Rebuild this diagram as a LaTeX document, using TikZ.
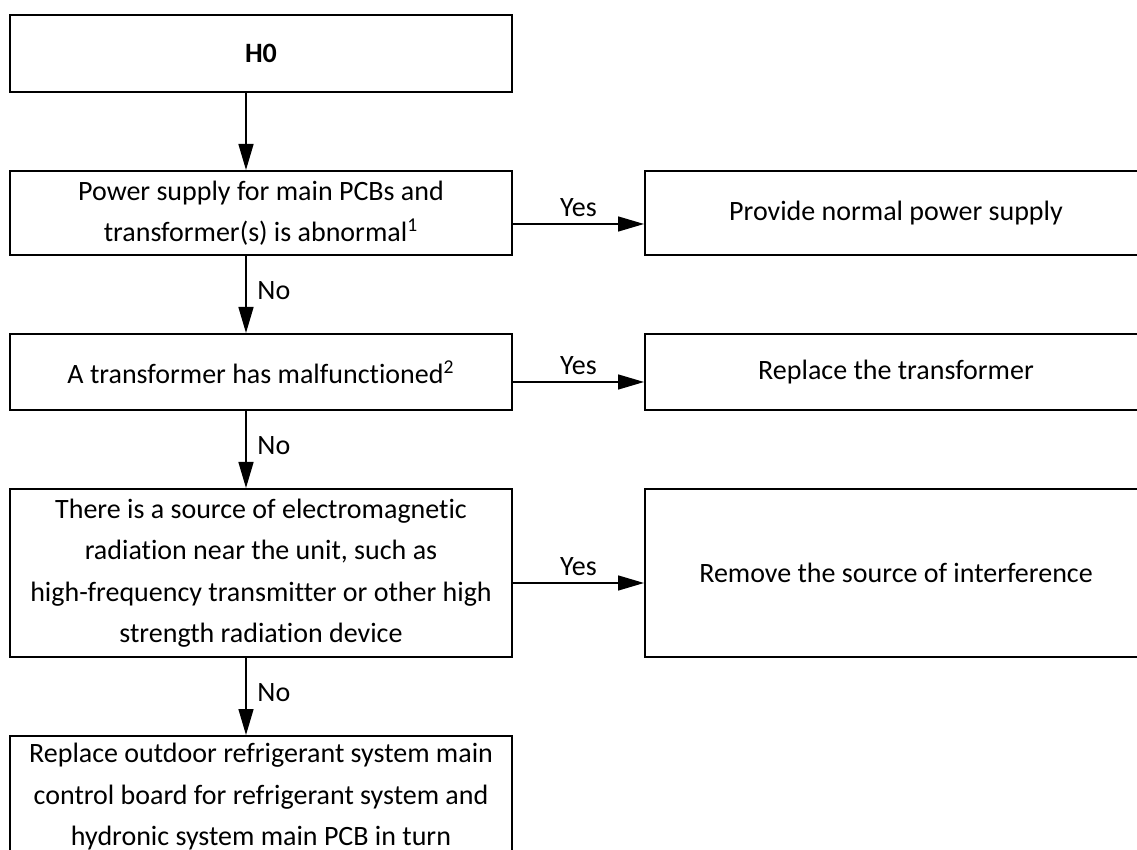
\documentclass[tikz,border=0pt]{standalone}
\usepackage{fontspec}
\setmainfont{Carlito}[Ligatures=NoCommon]
\usetikzlibrary{arrows.meta, positioning}
\tikzset{
    flowbox/.style={draw, line width=1pt, align=center, minimum width=251pt, inner sep=2pt,
        font=\fontsize{14}{20.75}\selectfont},
    flowarrow/.style={-{Triangle[length=13pt, width=7.5pt]}, line width=0.75pt},
    flowlabel/.style={font=\fontsize{14}{16}\selectfont}
}
\begin{document}
\begin{tikzpicture}
  \useasboundingbox (0,0) rectangle (568.5pt,-425pt);
  % Left column: checks
  \node[flowbox, minimum height=38.5pt] (h0) at (130.5pt,-26.75pt) {\textbf{H0}};
  \node[flowbox, minimum height=42pt, below=38.5pt of h0] (pwr)
        {Power supply for main PCBs and\\ transformer(s) is abnormal\textsuperscript{1}};
  \node[flowbox, minimum height=38pt, below=38.5pt of pwr] (trf)
        {A transformer has malfunctioned\textsuperscript{2}};
  \node[flowbox, minimum height=84pt, below=38.5pt of trf] (emr)
        {There is a source of electromagnetic\\ radiation near the unit, such as\\
         high-frequency transmitter or other high\\ strength radiation device};
  \node[flowbox, minimum height=61pt, below=38.5pt of emr] (pcb)
        {Replace outdoor refrigerant system main\\ control board for refrigerant system and\\
         hydronic system main PCB in turn};
  % Right column: remedies
  \node[flowbox, minimum height=42pt, right=65.5pt of pwr] (pwrfix) {Provide normal power supply};
  \node[flowbox, minimum height=38pt, right=65.5pt of trf] (trffix) {Replace the transformer};
  \node[flowbox, minimum height=84pt, right=65.5pt of emr] (emrfix) {Remove the source of interference};
  % No branches
  \draw[flowarrow] ([xshift=-7.5pt]h0.south) -- ([xshift=-7.5pt]pwr.north);
  \draw[flowarrow] ([xshift=-7.5pt]pwr.south) --
        node[right, flowlabel, pos=0.45, xshift=2pt] {No} ([xshift=-7.5pt]trf.north);
  \draw[flowarrow] ([xshift=-7.5pt]trf.south) --
        node[right, flowlabel, pos=0.45, xshift=2pt] {No} ([xshift=-7.5pt]emr.north);
  \draw[flowarrow] ([xshift=-7.5pt]emr.south) --
        node[right, flowlabel, pos=0.45, xshift=2pt] {No} ([xshift=-7.5pt]pcb.north);
  % Yes branches
  \draw[flowarrow] ([yshift=-5.5pt]pwr.east) -- node[above, flowlabel] {Yes} ([yshift=-5.5pt]pwrfix.west);
  \draw[flowarrow] ([yshift=-5pt]trf.east) -- node[above, flowlabel] {Yes} ([yshift=-5pt]trffix.west);
  \draw[flowarrow] ([yshift=-5pt]emr.east) -- node[above, flowlabel] {Yes} ([yshift=-5pt]emrfix.west);
\end{tikzpicture}
\end{document}
